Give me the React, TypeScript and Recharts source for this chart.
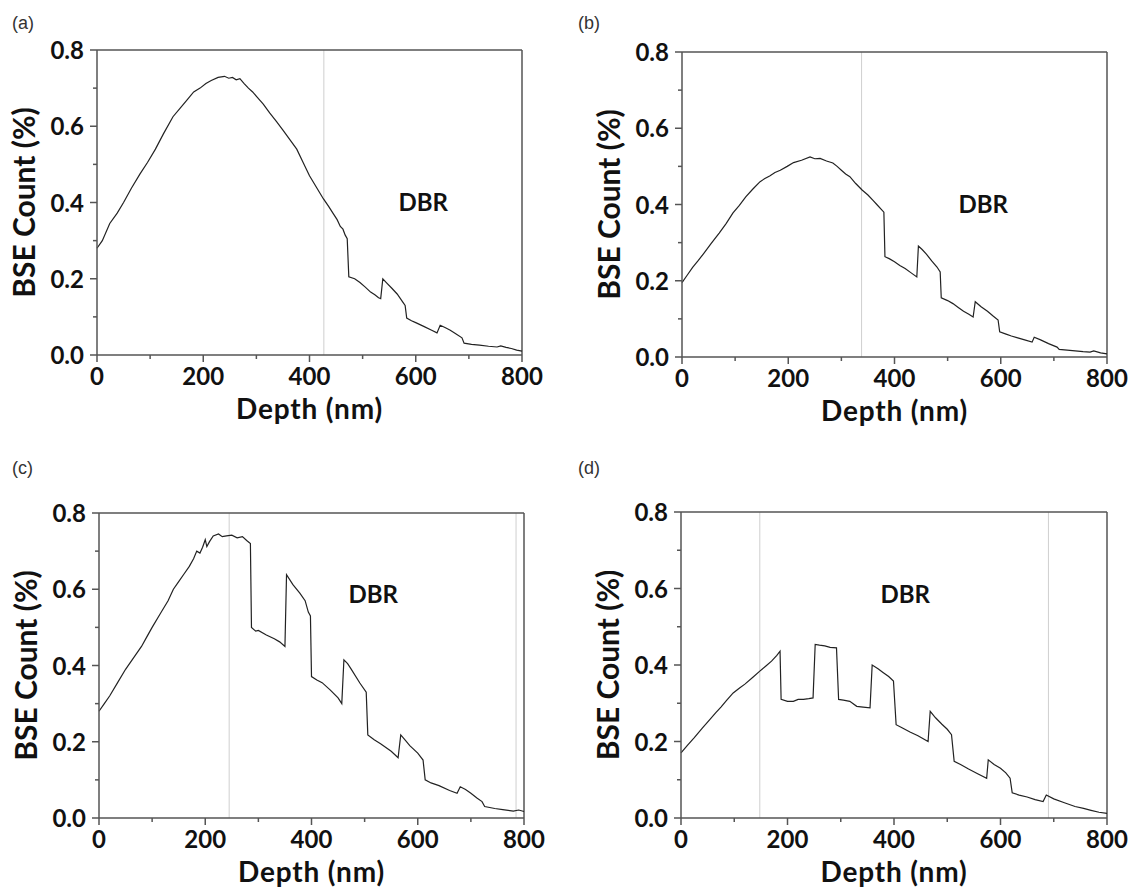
import { LineChart, Line, XAxis, YAxis, ReferenceLine, ReferenceDot } from "recharts"

// depth (nm), BSE count (%)
const panelA: [number, number][] = [
  [0, 0.28], [10, 0.3], [24, 0.345], [38, 0.372], [50, 0.4], [65, 0.438], [81, 0.475], [95, 0.505],
  [110, 0.54], [125, 0.58], [143, 0.625], [157, 0.648], [170, 0.67], [182, 0.69], [194, 0.7], [205, 0.712],
  [215, 0.72], [228, 0.728], [240, 0.731], [248, 0.726], [255, 0.728], [262, 0.722], [269, 0.725], [277, 0.712],
  [285, 0.7], [293, 0.69], [301, 0.677], [313, 0.658], [325, 0.635], [338, 0.612], [350, 0.59], [363, 0.565],
  [376, 0.54], [388, 0.505], [400, 0.47], [413, 0.44], [426, 0.41], [436, 0.39], [445, 0.37], [452, 0.355],
  [458, 0.337], [463, 0.33], [467, 0.315], [471, 0.305], [474, 0.205], [485, 0.2], [495, 0.19], [505, 0.178],
  [515, 0.165], [523, 0.158], [530, 0.15], [534, 0.148], [538, 0.2], [546, 0.188], [555, 0.175], [565, 0.16],
  [575, 0.14], [580, 0.13], [583, 0.097], [592, 0.09], [600, 0.085], [615, 0.075], [630, 0.065], [640, 0.058],
  [646, 0.078], [655, 0.072], [665, 0.065], [676, 0.055], [687, 0.045], [691, 0.031], [705, 0.028], [720, 0.026],
  [737, 0.023], [753, 0.021], [760, 0.024], [770, 0.02], [780, 0.017], [790, 0.013], [800, 0.01],
]

const panelB: [number, number][] = [
  [0, 0.195], [10, 0.215], [20, 0.235], [30, 0.252], [40, 0.27], [55, 0.298], [70, 0.325], [83, 0.35],
  [96, 0.378], [108, 0.398], [120, 0.42], [133, 0.44], [147, 0.46], [156, 0.468], [165, 0.475], [175, 0.484],
  [185, 0.49], [198, 0.5], [210, 0.51], [225, 0.516], [241, 0.525], [250, 0.52], [260, 0.521], [272, 0.514],
  [284, 0.509], [292, 0.5], [300, 0.49], [308, 0.48], [316, 0.473], [327, 0.455], [339, 0.438], [350, 0.425],
  [360, 0.41], [368, 0.398], [376, 0.386], [380, 0.38], [382, 0.263], [390, 0.258], [400, 0.25], [410, 0.24],
  [420, 0.232], [432, 0.22], [442, 0.21], [445, 0.291], [452, 0.282], [460, 0.27], [470, 0.252], [480, 0.236],
  [486, 0.223], [488, 0.155], [500, 0.148], [510, 0.14], [520, 0.13], [530, 0.12], [540, 0.112], [548, 0.105],
  [552, 0.145], [563, 0.132], [575, 0.12], [585, 0.108], [595, 0.097], [598, 0.066], [610, 0.06], [620, 0.055],
  [632, 0.05], [645, 0.045], [659, 0.039], [663, 0.052], [675, 0.045], [690, 0.035], [706, 0.026], [710, 0.02],
  [725, 0.018], [740, 0.016], [755, 0.014], [768, 0.013], [775, 0.016], [788, 0.011], [800, 0.008],
]

const panelC: [number, number][] = [
  [0, 0.28], [10, 0.3], [20, 0.32], [35, 0.355], [50, 0.39], [65, 0.42], [80, 0.45], [90, 0.475],
  [100, 0.5], [115, 0.535], [130, 0.57], [140, 0.6], [150, 0.62], [160, 0.64], [170, 0.66], [178, 0.68],
  [184, 0.7], [190, 0.695], [195, 0.71], [200, 0.73], [203, 0.712], [208, 0.725], [215, 0.74], [225, 0.745],
  [232, 0.738], [240, 0.74], [250, 0.742], [260, 0.735], [270, 0.738], [278, 0.728], [285, 0.72], [287, 0.5],
  [295, 0.49], [300, 0.492], [315, 0.48], [330, 0.47], [340, 0.462], [350, 0.45], [353, 0.638], [365, 0.612],
  [378, 0.59], [388, 0.57], [394, 0.54], [398, 0.53], [400, 0.371], [410, 0.362], [420, 0.355], [435, 0.336],
  [450, 0.315], [457, 0.3], [461, 0.415], [468, 0.405], [475, 0.39], [491, 0.354], [503, 0.33], [506, 0.218],
  [518, 0.205], [530, 0.195], [550, 0.175], [563, 0.158], [568, 0.218], [576, 0.205], [585, 0.19], [600, 0.17],
  [610, 0.152], [614, 0.1], [625, 0.092], [640, 0.085], [660, 0.072], [674, 0.065], [680, 0.082], [690, 0.075],
  [700, 0.065], [712, 0.052], [721, 0.043], [726, 0.03], [745, 0.025], [760, 0.022], [780, 0.018], [790, 0.021],
  [800, 0.017],
]

const panelD: [number, number][] = [
  [0, 0.17], [12, 0.19], [25, 0.21], [40, 0.235], [54, 0.257], [65, 0.275], [75, 0.29], [86, 0.308],
  [98, 0.327], [110, 0.34], [120, 0.35], [135, 0.368], [148, 0.384], [160, 0.398], [170, 0.41], [180, 0.425],
  [186, 0.436], [188, 0.31], [200, 0.305], [211, 0.305], [220, 0.31], [230, 0.31], [240, 0.312], [248, 0.314],
  [252, 0.454], [260, 0.452], [270, 0.45], [280, 0.446], [292, 0.445], [296, 0.31], [305, 0.308], [317, 0.305],
  [330, 0.292], [342, 0.29], [355, 0.288], [359, 0.4], [370, 0.39], [380, 0.38], [390, 0.37], [399, 0.358],
  [404, 0.244], [415, 0.236], [430, 0.225], [445, 0.215], [464, 0.2], [468, 0.279], [478, 0.262], [490, 0.245],
  [500, 0.232], [508, 0.218], [513, 0.148], [525, 0.14], [540, 0.128], [558, 0.115], [574, 0.104], [577, 0.152],
  [588, 0.14], [600, 0.13], [610, 0.118], [618, 0.104], [622, 0.066], [635, 0.06], [650, 0.055], [665, 0.048],
  [680, 0.043], [686, 0.06], [700, 0.05], [720, 0.04], [740, 0.03], [756, 0.025], [770, 0.02], [785, 0.015],
  [800, 0.012],
]

const depthTicks = [0, 100, 200, 300, 400, 500, 600, 700, 800]
const countTicks = [0, 0.1, 0.2, 0.3, 0.4, 0.5, 0.6, 0.7, 0.8]

// gray boundary lines (depth) and where the "DBR" note sits
const boundsA = [427]
const boundsB = [338]
const boundsC = [245, 785]
const boundsD = [148, 690]
const dbrA = [614, 0.4]
const dbrB = [567, 0.4]
const dbrC = [516, 0.585]
const dbrD = [421, 0.585]

const FONT = "Lato, 'DejaVu Sans', sans-serif"
const AXIS = "#555"

function DepthTick(props: any) {
  const { x, y, payload } = props
  const major = payload.value % 200 === 0
  return (
    <g>
      <line x1={x} y1={y} x2={x} y2={y + (major ? 7 : 4)} stroke={AXIS} strokeWidth={1.5} />
      {major && (
        <text x={x} y={y + 30} textAnchor="middle" fontFamily={FONT} fontWeight={700} fontSize={24} fill="#111">
          {payload.value}
        </text>
      )}
    </g>
  )
}

function CountTick(props: any) {
  const { x, y, payload } = props
  const major = Math.round(payload.value * 10) % 2 === 0
  return (
    <g>
      <line x1={x - (major ? 7 : 4)} y1={y} x2={x} y2={y} stroke={AXIS} strokeWidth={1.5} />
      {major && (
        <text x={x - 13} y={y + 9} textAnchor="end" fontFamily={FONT} fontWeight={700} fontSize={24} fill="#111">
          {payload.value.toFixed(1)}
        </text>
      )}
    </g>
  )
}

type PanelProps = {
  tag: string
  points: [number, number][]
  bounds: number[]
  dbr: number[]
  left: number
  top: number
  height: number
  margin: { top: number; right: number; left: number; bottom: number }
}

function Panel({ tag, points, bounds, dbr, left, top, height, margin }: PanelProps) {
  const data = points.map(([depth, count]) => ({ depth, count }))
  return (
    <div style={{ position: "absolute", left, top, width: 566, height }}>
      <div
        style={{
          position: "absolute",
          left: 12,
          top: 13,
          fontFamily: "'Liberation Sans', Arial, sans-serif",
          fontSize: 18,
          lineHeight: "20px",
          color: "#333",
        }}
      >
        ({tag})
      </div>
      <LineChart width={566} height={height} data={data} margin={margin}>
        <XAxis
          dataKey="depth"
          type="number"
          domain={[0, 800]}
          ticks={depthTicks}
          interval={0}
          tick={<DepthTick />}
          tickLine={false}
          tickSize={0}
          tickMargin={0}
          axisLine={{ stroke: AXIS, strokeWidth: 1.5 }}
          height={70}
          label={{
            value: "Depth (nm)",
            position: "insideBottom",
            offset: 6,
            fontFamily: FONT,
            fontWeight: 700,
            fontSize: 28,
            letterSpacing: 0.8,
            fill: "#111",
          }}
        />
        <YAxis
          type="number"
          domain={[0, 0.8]}
          ticks={countTicks}
          interval={0}
          tick={<CountTick />}
          tickLine={false}
          tickSize={0}
          tickMargin={0}
          axisLine={{ stroke: AXIS, strokeWidth: 1.5 }}
          width={87}
          label={{
            value: "BSE Count (%)",
            angle: -90,
            position: "insideLeft",
            offset: 14,
            textAnchor: "middle",
            style: { textAnchor: "middle" },
            fontFamily: FONT,
            fontWeight: 700,
            fontSize: 30,
            fill: "#111",
          }}
        />
        {bounds.map((b) => (
          <ReferenceLine key={b} x={b} stroke="#cfcfcf" strokeWidth={1} />
        ))}
        <ReferenceLine y={0.8} stroke={AXIS} strokeWidth={1.5} />
        <ReferenceLine x={800} stroke={AXIS} strokeWidth={1.5} />
        <ReferenceDot
          x={dbr[0]}
          y={dbr[1]}
          r={1}
          fill="none"
          stroke="none"
          label={{ value: "DBR", position: "center", fontFamily: FONT, fontWeight: 700, fontSize: 24, fill: "#111" }}
        />
        <Line
          type="linear"
          dataKey="count"
          stroke="#222"
          strokeWidth={1.2}
          dot={false}
          isAnimationActive={false}
        />
      </LineChart>
    </div>
  )
}

export default function App() {
  return (
    <div style={{ position: "absolute", left: 0, top: 0, width: 1132, height: 889, background: "#fff" }}>
      <Panel tag="a" points={panelA} bounds={boundsA} dbr={dbrA} left={0} top={0} height={445}
        margin={{ top: 50, right: 44, left: 10, bottom: 20 }} />
      <Panel tag="b" points={panelB} bounds={boundsB} dbr={dbrB} left={566} top={0} height={445}
        margin={{ top: 52, right: 25, left: 29, bottom: 18 }} />
      <Panel tag="c" points={panelC} bounds={boundsC} dbr={dbrC} left={0} top={445} height={444}
        margin={{ top: 68, right: 42, left: 12, bottom: 1 }} />
      <Panel tag="d" points={panelD} bounds={boundsD} dbr={dbrD} left={566} top={445} height={444}
        margin={{ top: 67, right: 25, left: 28, bottom: 1 }} />
    </div>
  )
}
